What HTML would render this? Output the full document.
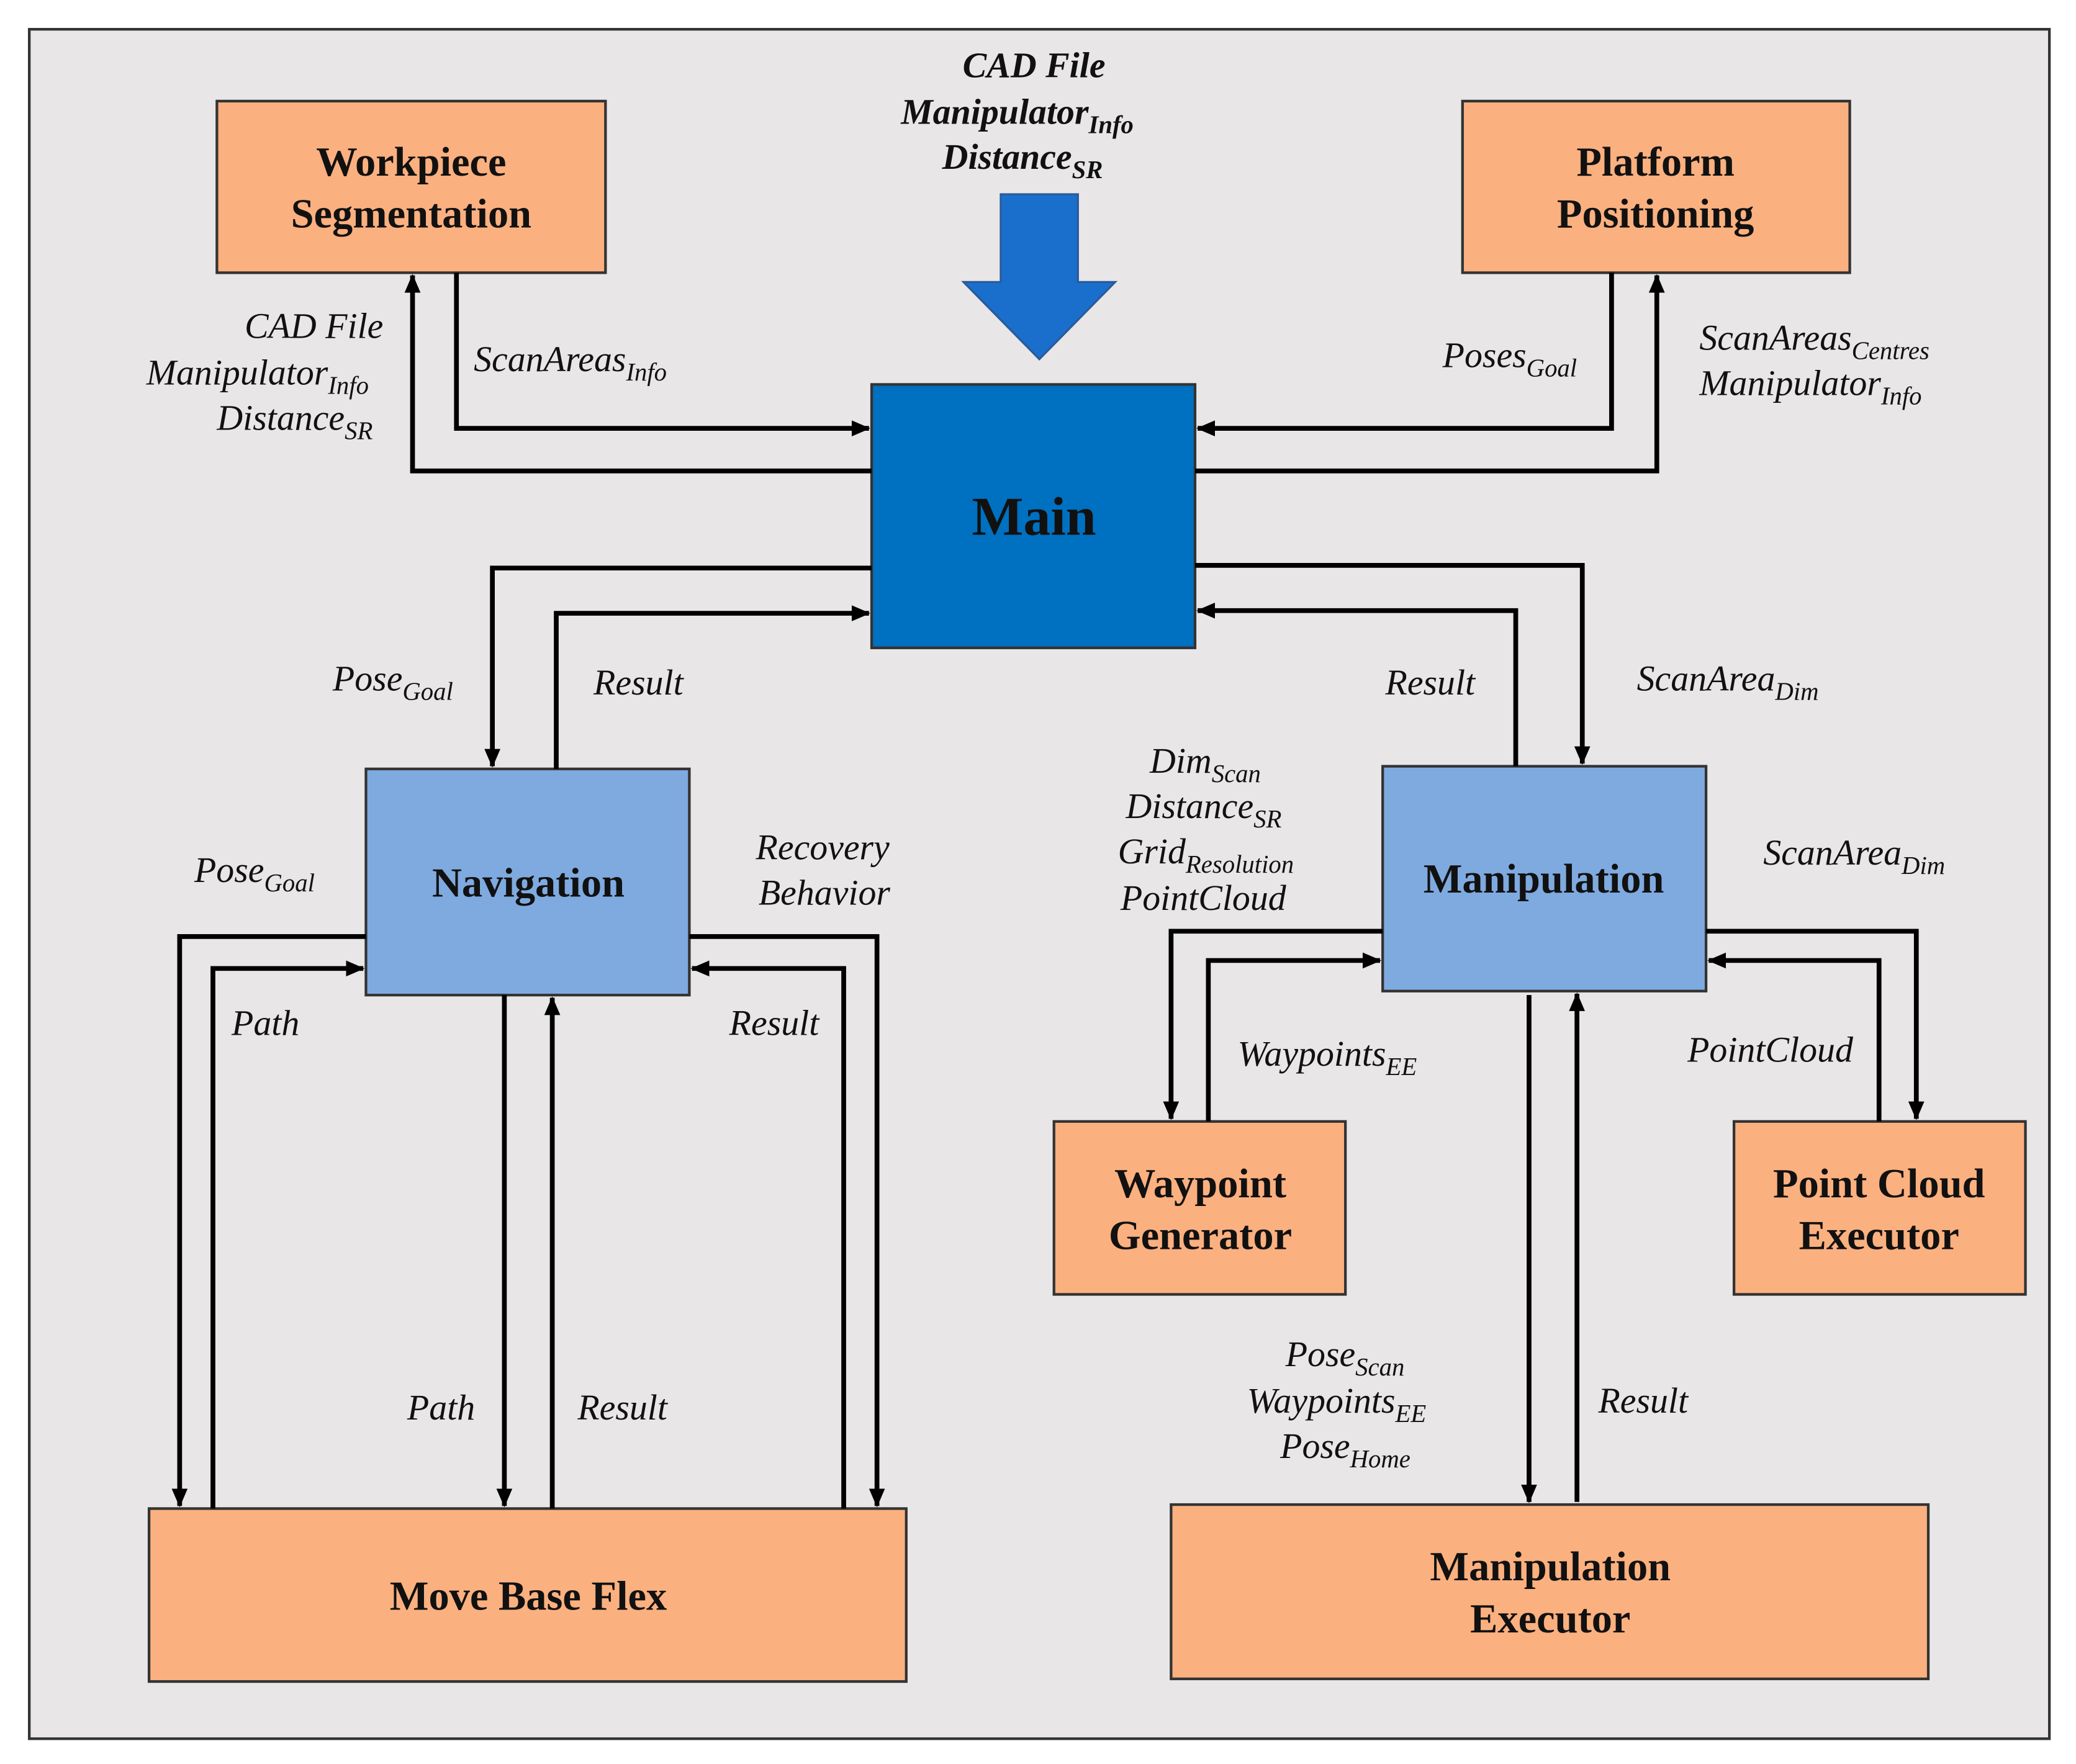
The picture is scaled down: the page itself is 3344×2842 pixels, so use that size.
<!DOCTYPE html>
<html><head><meta charset="utf-8"><style>
html,body{margin:0;padding:0;background:#fff}
svg{display:block}
.l{font-family:"Liberation Serif",serif;font-style:italic;font-size:27px;fill:#111}
.s{font-size:19px}
.b{font-family:"Liberation Serif",serif;font-weight:bold;font-size:31px;fill:#111;text-anchor:middle}
.ln{fill:none;stroke:#000;stroke-width:3.6;marker-end:url(#a)}
.bx{stroke:#333;stroke-width:2}
</style></head><body>
<svg width="3344" height="2842" viewBox="0 0 1560 1326" preserveAspectRatio="none" xmlns="http://www.w3.org/2000/svg">
<defs><marker id="a" markerWidth="14" markerHeight="12" refX="13" refY="6" orient="auto" markerUnits="userSpaceOnUse" viewBox="0 0 14 12"><path d="M0,0 L14,6 L0,12 z" fill="#000"/></marker></defs>
<rect width="1560" height="1326" fill="#fff"/>
<rect x="22" y="22" width="1518" height="1285" fill="#e8e6e7" stroke="#333" stroke-width="2"/>
<rect class="bx" x="163" y="76" width="292" height="129" fill="#fbb07f"/>
<rect class="bx" x="1099" y="76" width="291" height="129" fill="#fbb07f"/>
<rect class="bx" x="655" y="289" width="243" height="198" fill="#0070c0"/>
<rect class="bx" x="275" y="578" width="243" height="170" fill="#7faadf"/>
<rect class="bx" x="1039" y="576" width="243" height="169" fill="#7faadf"/>
<rect class="bx" x="792" y="843" width="219" height="130" fill="#fbb07f"/>
<rect class="bx" x="1303" y="843" width="219" height="130" fill="#fbb07f"/>
<rect class="bx" x="112" y="1134" width="569" height="130" fill="#fbb07f"/>
<rect class="bx" x="880" y="1131" width="569" height="131" fill="#fbb07f"/>
<path d="M752,146 L810,146 L810,212 L838,212 L781,270 L724,212 L752,212 z" fill="#1a6fcc" stroke="#2a5a9a" stroke-width="1.5"/>
<path class="ln" d="M343,205 V322 H653"/>
<path class="ln" d="M655,354 H310 V207"/>
<path class="ln" d="M1211,205 V322 H900"/>
<path class="ln" d="M898,354 H1245 V207"/>
<path class="ln" d="M655,427 H370 V576"/>
<path class="ln" d="M418,578 V461 H653"/>
<path class="ln" d="M898,425 H1189 V574"/>
<path class="ln" d="M1139,576 V459 H900"/>
<path class="ln" d="M275,704 H135 V1132"/>
<path class="ln" d="M160,1134 V728 H273"/>
<path class="ln" d="M379,748 V1132"/>
<path class="ln" d="M415,1134 V750"/>
<path class="ln" d="M518,704 H659 V1132"/>
<path class="ln" d="M634,1134 V728 H520"/>
<path class="ln" d="M1039,700 H880 V841"/>
<path class="ln" d="M908,843 V722 H1037"/>
<path class="ln" d="M1282,700 H1440 V841"/>
<path class="ln" d="M1412,843 V722 H1284"/>
<path class="ln" d="M1149,748 V1129"/>
<path class="ln" d="M1185,1129 V747"/>
<text class="b" x="309" y="132">Workpiece</text><text class="b" x="309" y="171">Segmentation</text>
<text class="b" x="1244" y="132">Platform</text><text class="b" x="1244" y="171">Positioning</text>
<text class="b" x="777" y="402" style="font-size:41px">Main</text>
<text class="b" x="397" y="674">Navigation</text>
<text class="b" x="1160" y="671">Manipulation</text>
<text class="b" x="902" y="900">Waypoint</text><text class="b" x="902" y="939">Generator</text>
<text class="b" x="1412" y="900">Point Cloud</text><text class="b" x="1412" y="939">Executor</text>
<text class="b" x="397" y="1210">Move Base Flex</text>
<text class="b" x="1165" y="1188">Manipulation</text><text class="b" x="1165" y="1227">Executor</text>
<g class="l" style="font-weight:bold;font-size:27px">
<text x="777" y="58" text-anchor="middle">CAD File</text>
<text x="677" y="93">Manipulator<tspan class="s" dy="7">Info</tspan></text>
<text x="708" y="127">Distance<tspan class="s" dy="7">SR</tspan></text>
</g>
<text class="l" x="288" y="254" text-anchor="end">CAD File</text>
<text class="l" x="110" y="289">Manipulator<tspan class="s" dy="7">Info</tspan></text>
<text class="l" x="163" y="323">Distance<tspan class="s" dy="7">SR</tspan></text>
<text class="l" x="356" y="279">ScanAreas<tspan class="s" dy="7">Info</tspan></text>
<text class="l" x="1084" y="276">Poses<tspan class="s" dy="7">Goal</tspan></text>
<text class="l" x="1277" y="263">ScanAreas<tspan class="s" dy="7">Centres</tspan></text>
<text class="l" x="1277" y="297">Manipulator<tspan class="s" dy="7">Info</tspan></text>
<text class="l" x="250" y="519">Pose<tspan class="s" dy="7">Goal</tspan></text>
<text class="l" x="446" y="522">Result</text>
<text class="l" x="1041" y="522">Result</text>
<text class="l" x="1230" y="519">ScanArea<tspan class="s" dy="7">Dim</tspan></text>
<text class="l" x="146" y="663">Pose<tspan class="s" dy="7">Goal</tspan></text>
<text class="l" x="568" y="646">Recovery</text>
<text class="l" x="570" y="680">Behavior</text>
<text class="l" x="174" y="778">Path</text>
<text class="l" x="548" y="778">Result</text>
<text class="l" x="306" y="1067">Path</text>
<text class="l" x="434" y="1067">Result</text>
<text class="l" x="864" y="581">Dim<tspan class="s" dy="7">Scan</tspan></text>
<text class="l" x="846" y="615">Distance<tspan class="s" dy="7">SR</tspan></text>
<text class="l" x="840" y="649">Grid<tspan class="s" dy="7">Resolution</tspan></text>
<text class="l" x="842" y="684">PointCloud</text>
<text class="l" x="1325" y="650">ScanArea<tspan class="s" dy="7">Dim</tspan></text>
<text class="l" x="930" y="801">Waypoints<tspan class="s" dy="7">EE</tspan></text>
<text class="l" x="1268" y="798">PointCloud</text>
<text class="l" x="966" y="1027">Pose<tspan class="s" dy="7">Scan</tspan></text>
<text class="l" x="937" y="1062">Waypoints<tspan class="s" dy="7">EE</tspan></text>
<text class="l" x="962" y="1096">Pose<tspan class="s" dy="7">Home</tspan></text>
<text class="l" x="1201" y="1062">Result</text>
</svg>
</body></html>
